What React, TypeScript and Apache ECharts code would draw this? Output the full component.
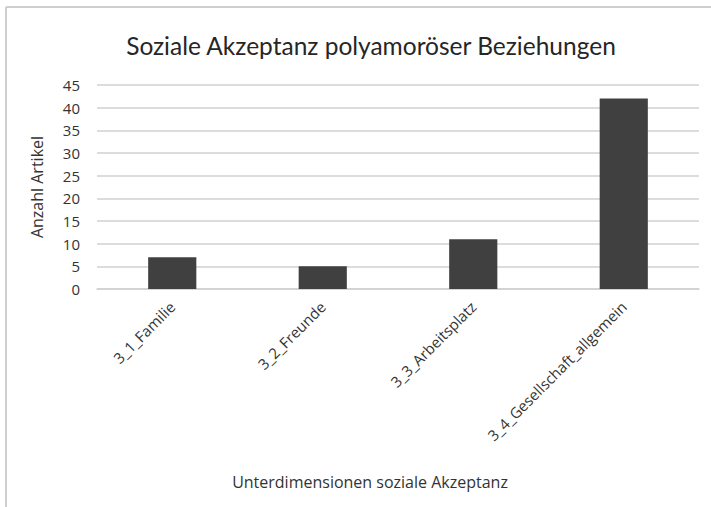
import React, { useEffect, useRef } from "react";
import * as echarts from "echarts";

const categories = ["3_1_Familie", "3_2_Freunde", "3_3_Arbeitsplatz", "3_4_Gesellschaft_allgemein"];
const values = [7, 5, 11, 42];
const titleText = "Soziale Akzeptanz polyamoröser Beziehungen";
const xAxisName = "Unterdimensionen soziale Akzeptanz";
const yAxisName = "Anzahl Artikel";

const FONT = "'Open Sans', sans-serif";
const TITLE_FONT = "Lato, 'Open Sans', sans-serif";

export default function App() {
  const ref = useRef<HTMLDivElement>(null);
  useEffect(() => {
    if (!ref.current) return;
    const chart = echarts.init(ref.current, null, { renderer: "svg" });
    chart.setOption({
      animation: false,
      backgroundColor: "#ffffff",
      title: {
        text: titleText,
        left: 366,
        top: 28,
        textAlign: "center",
        textStyle: { fontFamily: TITLE_FONT, fontSize: 24.5, fontWeight: "normal", color: "#262626" },
      },
      grid: { left: 97, right: 12, top: 85, bottom: 218, containLabel: false },
      xAxis: {
        type: "category",
        data: categories,
        axisLine: { show: true, lineStyle: { color: "#d0d0d0", width: 1.5 } },
        axisTick: { show: false },
        axisLabel: {
          rotate: 45,
          margin: 15,
          interval: 0,
          fontFamily: FONT,
          fontSize: 15,
          color: "#333333",
        },
      },
      yAxis: {
        type: "value",
        min: 0,
        max: 45,
        interval: 5,
        name: yAxisName,
        nameLocation: "middle",
        nameRotate: 90,
        nameGap: 52,
        nameTextStyle: { fontFamily: FONT, fontSize: 16, color: "#333333" },
        axisLine: { show: false },
        axisTick: { show: false },
        axisLabel: { fontFamily: FONT, fontSize: 15, color: "#333333", margin: 17 },
        splitLine: { lineStyle: { color: "#d0d0d0", width: 1.5 } },
      },
      series: [
        {
          type: "bar",
          data: values,
          barWidth: "32%",
          itemStyle: { color: "#404040" },
        },
      ],
      graphic: [
        {
          type: "text",
          x: 370,
          y: 482,
          style: {
            text: xAxisName,
            fontFamily: FONT,
            fontSize: 16,
            fill: "#333333",
            textAlign: "center",
            textVerticalAlign: "middle",
          },
        },
        {
          type: "line",
          shape: { x1: 6, y1: 7, x2: 711, y2: 7 },
          style: { stroke: "#cfcfcf", lineWidth: 2 },
        },
        {
          type: "line",
          shape: { x1: 6, y1: 7, x2: 6, y2: 507 },
          style: { stroke: "#cfcfcf", lineWidth: 2 },
        },
      ],
    });
    return () => chart.dispose();
  }, []);
  return (
    <div
      ref={ref}
      style={{ position: "absolute", left: 0, top: 0, width: 711, height: 507 }}
    />
  );
}
